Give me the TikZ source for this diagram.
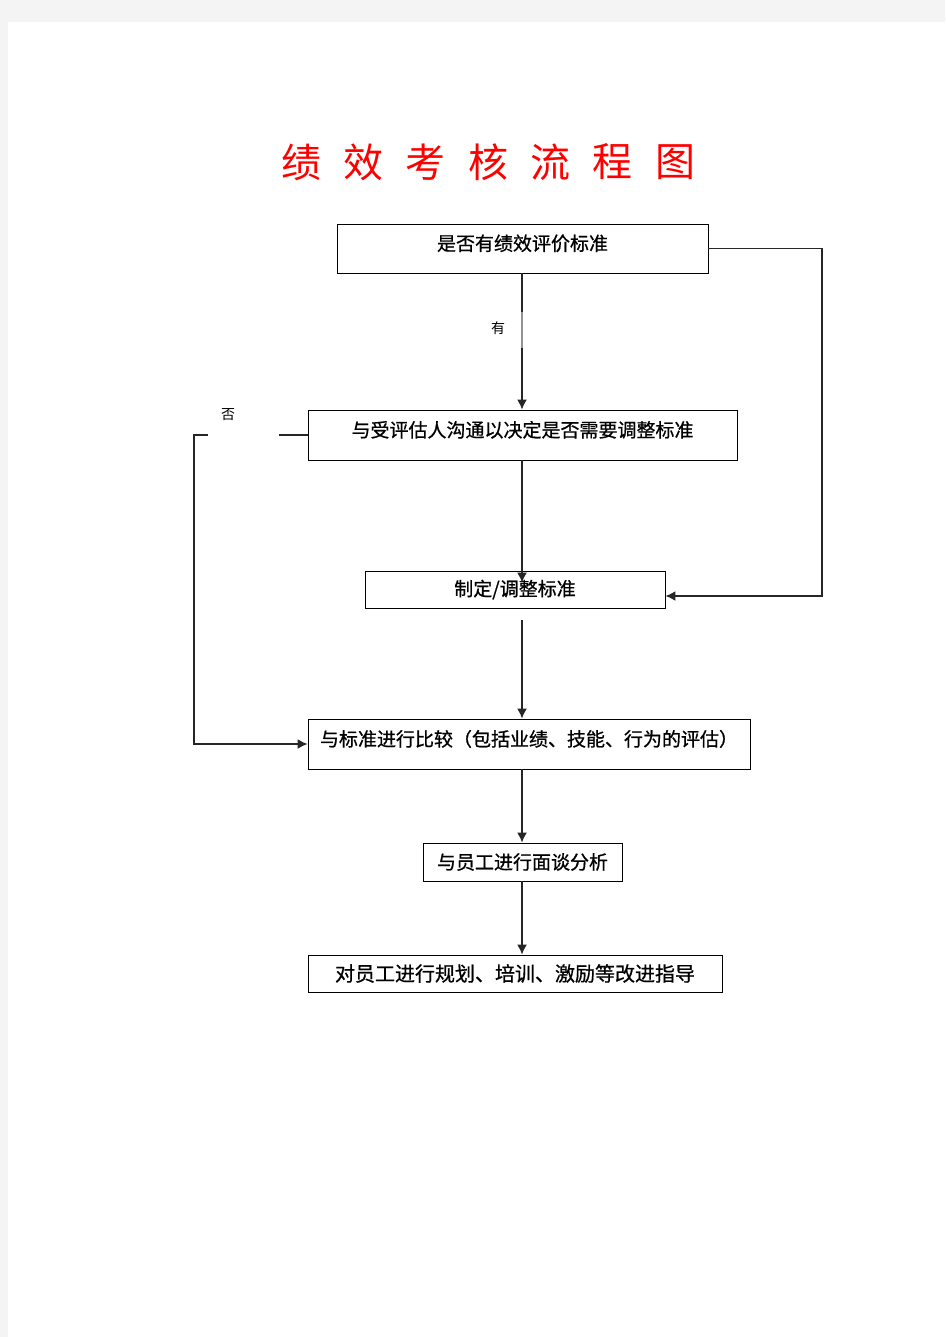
\documentclass[tikz,border=0pt]{standalone}
\usepackage{fontspec}
\setmainfont{Liberation Serif}
\newfontfamily\cjk{Noto Sans CJK SC}
\newfontfamily\cjkheavy[FakeBold=0.8]{Noto Sans CJK SC}
\usetikzlibrary{arrows.meta, positioning}
\definecolor{pagegray}{RGB}{244,244,244}
\tikzset{%
>={Latex[width=10pt,length=10pt]},
  % Specifications for style of nodes:
            stepbox/.style = {rectangle, draw=black, line width=0.9pt, fill=white,
                            font=\cjkheavy\fontsize{19}{22}\selectfont, inner sep=0pt},
            tallbox/.style = {stepbox, text depth=12pt},
            titlechar/.style = {text=red, font=\cjk\fontsize{40}{44}\selectfont, inner sep=0pt},
            tag/.style = {font=\cjk\fontsize{14}{16}\selectfont, inner sep=0pt},
            flow/.style = {->, line width=1.5pt, draw=black!85}
}

\begin{document}
\begin{tikzpicture}[x=1pt, y=-1pt]
                        % page
                        \fill[pagegray] (0,0) rectangle (945,1337);
                        \fill[white] (8,22) rectangle (945,1337);
                        % title
                        \foreach\ch [count=\i] in {绩,效,考,核,流,程,图}{
                            \node[titlechar] (t\i) at ({238.7+62.33*\i},162) {\ch};
                        }
                        % steps
                        \node[tallbox, minimum width=371pt, minimum height=49pt] (check) at (522.5,248.5) {是否有绩效评价标准};
                        \node[tallbox, minimum width=429pt, minimum height=50pt] (talk) at (522.5,435) {与受评估人沟通以决定是否需要调整标准};
                        \node[stepbox, minimum width=300pt, minimum height=37pt] (set) at (515,589.5) {制定/调整标准};
                        \node[tallbox, minimum width=442pt, minimum height=50pt] (compare) at (529,744) {与标准进行比较（包括业绩、技能、行为的评估）};
                        \node[stepbox, minimum width=199pt, minimum height=38pt] (interview) at (522.5,862) {与员工进行面谈分析};
                        \node[stepbox, minimum width=414pt, minimum height=37pt, font=\cjkheavy\fontsize{20}{22}\selectfont] (guide) at (515,973.5) {对员工进行规划、培训、激励等改进指导};
                        % connectors
                        \coordinate (axis) at (522,0);
                        \coordinate (rloop) at (822,0);
                        \coordinate (lloop) at (194,0);
                        \draw[flow] (check.south -| axis) -- (talk.north -| axis);
                        \draw[flow] (talk.south -| axis) -- ([yshift=-12pt]set.north -| axis);
                        \draw[flow] ([yshift=-12pt]set.south -| axis) -- (compare.north -| axis);
                        \draw[flow] (compare.south -| axis) -- (interview.north -| axis);
                        \draw[flow] (interview.south -| axis) -- (guide.north -| axis);
                        \draw[flow] (check.east) -- (check.east -| rloop) |- ([yshift=-6.5pt]set.east);
                        \draw[flow] (talk.west) -- (talk.west -| lloop) |- (compare.west);
                        % label boxes
                        \node[fill=white, minimum width=71pt, minimum height=6pt, inner sep=0pt] (nogap) at (243.5,435) {};
                        \node[fill=white, fill opacity=0.5, minimum width=3pt, minimum height=36pt, inner sep=0pt] (yesgap) at (522,330) {};
                        \node[tag] (yes) at (498,328) {有};
                        \node[tag] (no) at (228,415) {否};
                    \end{tikzpicture}
\end{document}
